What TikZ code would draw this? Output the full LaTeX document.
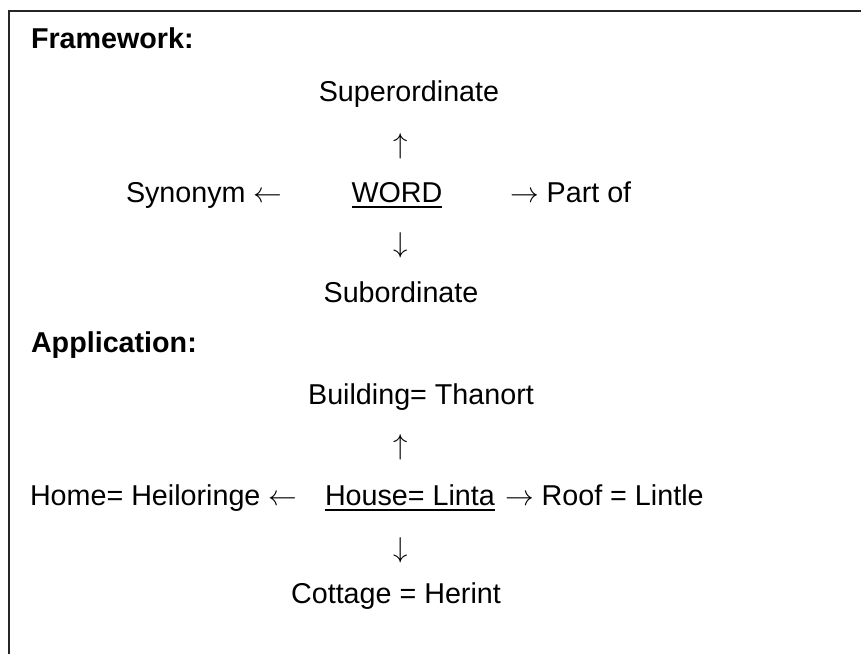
\RequirePackage{fix-cm}
\documentclass[tikz,border=0pt]{standalone}
\usepackage{fontspec}
\setmainfont{Liberation Sans}
\newcommand{\myla}{$\leftarrow$}
\newcommand{\myra}{$\rightarrow$}
\newcommand{\myua}{$\uparrow$}
\newcommand{\myda}{$\downarrow$}
\begin{document}
\begin{tikzpicture}[x=1pt,y=-1pt,
  txt/.style={inner sep=0pt,outer sep=0pt,font=\fontsize{28.7}{34}\selectfont},
  hdr/.style={txt,font=\fontsize{28.7}{34}\selectfont\bfseries,anchor=base west},
  arr/.style={txt,anchor=center},
  uline/.style={line width=1.8pt}]
\useasboundingbox (0,0) rectangle (861,654);
\draw[line width=2pt,draw=black!85] (9,654) -- (9,11) -- (861,11);
% Framework
\node[hdr] (fw) at (31,48) {Framework:};
\node[txt,anchor=base] (sup) at (409,101) {Superordinate};
\node[arr] (up1) at (401,146) {\myua};
\node[txt,anchor=base west] (syn) at (126,202) {Synonym \myla};
\node[txt,anchor=base] (word) at (397,202) {WORD};
\draw[uline] ([yshift=-5pt]word.base west) -- ([yshift=-5pt]word.base east);
\node[txt,anchor=base west] (part) at (510,202) {\myra\ Part of};
\node[arr] (dn1) at (401,245) {\myda};
\node[txt,anchor=base] (sub) at (401,302) {Subordinate};
% Application
\node[hdr] (app) at (31,352) {Application:};
\node[txt,anchor=base] (bld) at (421,404) {Building= Thanort};
\node[arr] (up2) at (401,447) {\myua};
\node[txt,anchor=base west] (home) at (30,505) {Home= Heiloringe \myla};
\node[txt,anchor=base west] (house) at (325,505) {House= Linta};
\draw[uline] ([yshift=-5pt]house.base west) -- ([yshift=-5pt]house.base east);
\node[txt,anchor=base west] (roof) at (505,505) {\myra\ Roof = Lintle};
\node[arr] (dn2) at (401,550) {\myda};
\node[txt,anchor=base] (cot) at (396,603) {Cottage = Herint};
\end{tikzpicture}
\end{document}
